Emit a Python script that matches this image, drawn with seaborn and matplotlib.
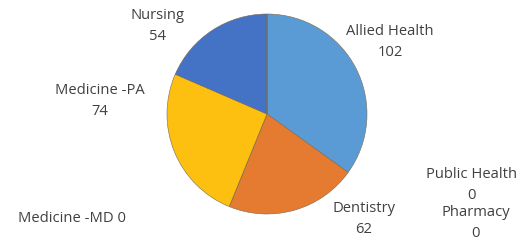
import matplotlib
matplotlib.use("Agg")
import matplotlib.pyplot as plt
import seaborn as sns

# data
schools = ["Allied Health", "Dentistry", "Medicine -MD", "Medicine -PA", "Nursing", "Pharmacy", "Public Health"]
counts = [102, 62, 0, 74, 54, 0, 0]
colors = ["#5B9BD5", "#E57B30", "#A5A5A5", "#FDC010", "#4472C4", "#70AD47", "#264478"]

# label positions in pixels (x, y from top), text only
label_pos = {
    "Allied Health": (390, 42, "two"),
    "Dentistry": (364, 219, "two"),
    "Medicine -MD": (72, 219, "one"),
    "Medicine -PA": (100, 101, "two"),
    "Nursing": (157, 26, "two"),
    "Pharmacy": (476, 223, "two"),
    "Public Health": (472, 185, "two"),
}

sns.set_style("white")
plt.rcParams["font.family"] = ["Open Sans", "DejaVu Sans"]

W, H = 519, 241
fig = plt.figure(figsize=(W / 100, H / 100), dpi=100)
ax = fig.add_axes([0, 0, 1, 1])

ax.pie(counts, colors=colors, startangle=90, counterclock=False,
       center=(267, H - 114), radius=100, frame=True,
       wedgeprops=dict(edgecolor="#7a6a50", linewidth=0.4))

ax.set_xlim(0, W)
ax.set_ylim(0, H)
ax.set_aspect("equal")
ax.axis("off")

for name, val in zip(schools, counts):
    x, y, mode = label_pos[name]
    if mode == "one":
        txt = f"{name} {val}"
    else:
        txt = f"{name}\n{val}"
    ax.text(x, H - y, txt, ha="center", va="center", fontsize=10.6,
            color="#404040", linespacing=1.5)

fig.savefig("out.png", dpi=100)
